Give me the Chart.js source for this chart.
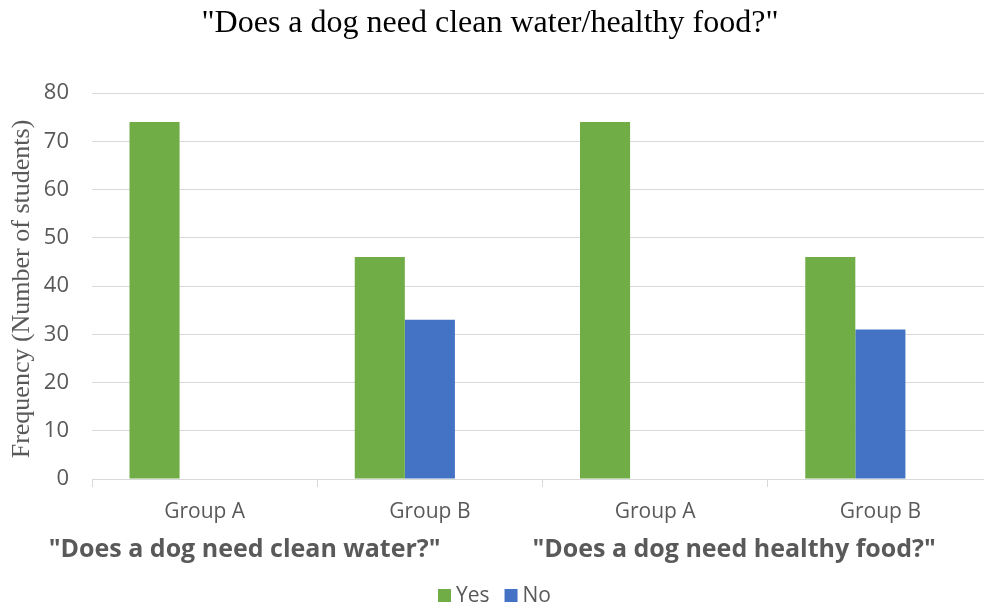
<!DOCTYPE html>
<html>
<head>
<meta charset="utf-8">
<script src="https://cdn.jsdelivr.net/npm/chart.js@4.4.0/dist/chart.umd.min.js"></script>
<style>
  html, body { margin: 0; padding: 0; background: #fff; overflow: hidden; }
  #wrap { width: 994px; height: 606px; position: relative; }
</style>
</head>
<body>
<div id="wrap"><canvas id="chart"></canvas></div>
<script>
// ---- data ----
const categories = ['Group A', 'Group B', 'Group A', 'Group B'];
const questions = ['"Does a dog need clean water?"', '"Does a dog need healthy food?"'];
const yesValues = [74, 46, 74, 46];
const noValues = [0, 33, 0, 31];
const blankValues = [null, null, null, null];   // empty third series in the source sheet
const yTicks = [0, 10, 20, 30, 40, 50, 60, 70, 80];

const chartTitle = '"Does a dog need clean water/healthy food?"';
const yTitle = 'Frequency (Number of students)';

const SANS = '"Open Sans", "DejaVu Sans", sans-serif';
const SERIF = '"Liberation Serif", "DejaVu Serif", serif';
const TEXT = '#595959';

// draws title, y title, group captions and legend
const decorPlugin = {
    id: 'decor',
    afterDraw(chart) {
        const ctx = chart.ctx;
        const x = chart.scales.x;
        ctx.save();

        // title
        ctx.fillStyle = '#000';
        ctx.font = '32px ' + SERIF;
        ctx.textAlign = 'center';
        ctx.textBaseline = 'middle';
        ctx.fillText(chartTitle, 490, 24);

        // y axis title
        ctx.save();
        ctx.translate(22, 289);
        ctx.rotate(-Math.PI / 2);
        ctx.fillStyle = TEXT;
        ctx.font = '26px ' + SERIF;
        ctx.fillText(yTitle, 0, 0);
        ctx.restore();

        // question captions under each pair of groups
        ctx.fillStyle = TEXT;
        ctx.font = 'bold 25px ' + SANS;
        ctx.fillText(questions[0], x.getPixelForValue(0) + 40, 550);
        ctx.fillText(questions[1], x.getPixelForValue(2) + 79, 550);

        // legend (Yes / No only)
        ctx.font = '21px ' + SANS;
        ctx.textAlign = 'left';
        const items = chart.data.datasets.slice(0, 2);
        let lx = 438;
        items.forEach(ds => {
            ctx.fillStyle = ds.backgroundColor;
            ctx.fillRect(lx, 589, 13, 13);
            ctx.fillStyle = TEXT;
            ctx.fillText(ds.label, lx + 18, 596);
            lx += 18 + ctx.measureText(ds.label).width + 15;
        });

        ctx.restore();
    }
};

new Chart(document.getElementById('chart'), {
    type: 'bar',
    data: {
        labels: categories,
        datasets: [
            { label: 'Yes', data: yesValues, backgroundColor: '#70ad47' },
            { label: 'No', data: noValues, backgroundColor: '#4472c4' },
            { label: '', data: blankValues, backgroundColor: '#a5a5a5' }
        ]
    },
    options: {
        responsive: true,
        maintainAspectRatio: false,
        animation: false,
        layout: { padding: { top: 93, right: 1, left: 0, bottom: 0 } },
        datasets: {
            bar: { categoryPercentage: 0.667, barPercentage: 1 }
        },
        plugins: {
            legend: { display: false },
            title: { display: false },
            tooltip: { enabled: false }
        },
        scales: {
            x: {
                grid: {
                    offset: true,
                    drawOnChartArea: false,
                    tickLength: 8,
                    color: '#d9d9d9'
                },
                border: { color: '#d9d9d9' },
                ticks: {
                    color: TEXT,
                    font: { family: SANS, size: 21 },
                    padding: 12
                },
                afterFit(scale) { scale.height = 127; }
            },
            y: {
                min: 0,
                max: 80,
                afterBuildTicks(scale) { scale.ticks = yTicks.map(v => ({ value: v })); },
                grid: { color: '#d9d9d9', drawTicks: false },
                border: { display: false },
                ticks: {
                    color: TEXT,
                    font: { family: SANS, size: 22 },
                    padding: 23
                },
                afterFit(scale) { scale.width = 92; }
            }
        }
    },
    plugins: [decorPlugin]
});
</script>
</body>
</html>
